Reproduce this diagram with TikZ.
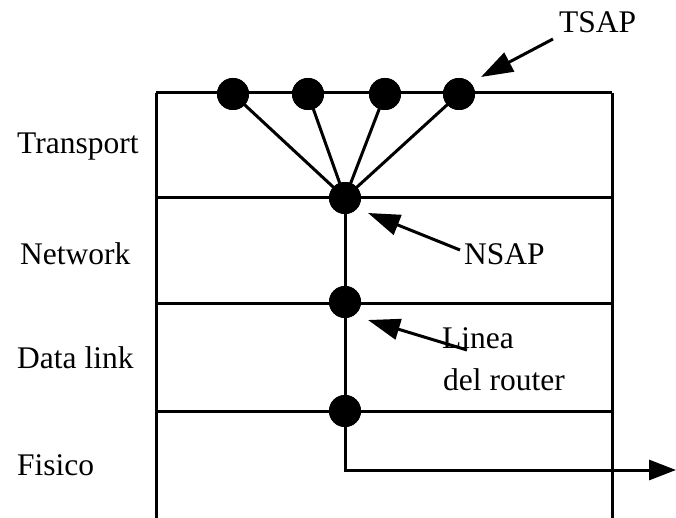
\documentclass[tikz,border=0pt]{standalone}
\usepackage{fontspec}
\setmainfont{Liberation Serif}
\usetikzlibrary{arrows.meta}
\begin{document}
\begin{tikzpicture}[x=1pt,y=-1pt,
  ln/.style={line width=3pt},
  dot/.style={circle,fill=black,inner sep=0pt,minimum size=32pt},
  lbl/.style={anchor=base west,inner sep=0pt,font=\fontsize{31.5}{36}\selectfont},
  pointer/.style={line width=3pt,-{Triangle[length=32pt,width=21pt]}},
  outarrow/.style={line width=3pt,-{Triangle[length=27pt,width=20pt]}}]
\useasboundingbox (0,0) rectangle (676,518);
% frame coordinates
\coordinate (lt) at (156,93);
\coordinate (lb) at (156,518);
\coordinate (rt) at (612,93);
\coordinate (rb) at (612,518);
\coordinate (l2) at (156,198);
\coordinate (r2) at (612,198);
\coordinate (l3) at (156,303);
\coordinate (r3) at (612,303);
\coordinate (l4) at (156,411);
\coordinate (r4) at (612,411);
% frame
\draw[ln] (lt) -- (lb);
\draw[ln] (rt) -- (rb);
\draw[ln] (lt) -- (rt);
\draw[ln] (l2) -- (r2);
\draw[ln] (l3) -- (r3);
\draw[ln] (l4) -- (r4);
% dots
\node[dot] (t1) at (233,94) {};
\node[dot] (t2) at (308,94) {};
\node[dot] (t3) at (385,94) {};
\node[dot] (t4) at (459,94) {};
\node[dot] (n) at (345,198) {};
\node[dot] (d) at (345,302) {};
\node[dot] (p) at (345,411) {};
\coordinate (corner) at (345,470);
\coordinate (out) at (676,470);
% connectors
\draw[ln] (t1.center) -- (n.center);
\draw[ln] (t2.center) -- (n.center);
\draw[ln] (t3.center) -- (n.center);
\draw[ln] (t4.center) -- (n.center);
\draw[ln] (n.center) -- (d.center) -- (p.center);
\draw[outarrow] (p.center) -- (corner) -- (out);
% redraw dots on top
\foreach \k in {t1,t2,t3,t4,n,d,p}{\fill (\k) circle (16pt);}
% labels
\node[lbl] (ltr) at (17,154) {Transport};
\node[lbl] (lnw) at (20,265) {Network};
\node[lbl] (ldl) at (17,368) {Data link};
\node[lbl] (lfs) at (17,475) {Fisico};
\node[lbl] (tsap) at (559,33) {TSAP};
\node[lbl] (nsap) at (464,265) {NSAP};
\node[lbl] (linea) at (442,348) {Linea};
\node[lbl] (router) at (443,390) {del router};
% pointers
\coordinate (tsapT) at (553,39);
\coordinate (tsapH) at (481,77);
\coordinate (nsapT) at (460,250);
\coordinate (nsapH) at (368,213);
\coordinate (linT) at (467,350);
\coordinate (linH) at (368,320);
\draw[pointer] (tsapT) -- (tsapH);
\draw[pointer] (nsapT) -- (nsapH);
\draw[pointer] (linT) -- (linH);
\end{tikzpicture}
\end{document}
